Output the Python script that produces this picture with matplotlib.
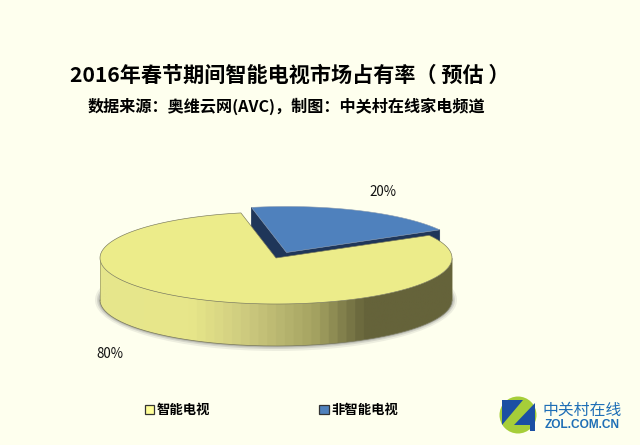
import numpy as np
import matplotlib
matplotlib.use("Agg")
import matplotlib.pyplot as plt
from matplotlib.patches import Polygon, Circle, Ellipse, Patch
from matplotlib.colors import LinearSegmentedColormap

plt.rcParams['font.family'] = ['Noto Sans CJK SC', 'DejaVu Sans']

# data
categories = ['智能电视', '非智能电视']
shares = [80, 20]
title = '2016年春节期间智能电视市场占有率（ 预估 ）'
subtitle = '数据来源：奥维云网(AVC)，制图：中关村在线家电频道'

# pie geometry, in pixels
BG = '#FEFFEE'
CX, CY = 276, 258
RX, RY = 176, 46
DEPTH = 42
START = -11.5   # clockwise from 12 o'clock, start of the small slice
EXPLODE = (10.5, -5.5)

YELLOW = '#ECEC8A'
BLUE = '#4F81BD'
BLUE_DARK = '#1F3659'
side_cmap = LinearSegmentedColormap.from_list('rim', [
    (0.0, '#E6E68C'), (0.25, '#E8E78A'), (0.42, '#CCC97E'),
    (0.62, '#A3A160'), (0.76, '#65633A'), (1.0, '#65633A')], N=40)


def rim(a0, a1, cx=CX, cy=CY, n=160):
    t = np.radians(np.linspace(a0, a1, n))
    return np.column_stack([cx + RX * np.sin(t), cy - RY * np.cos(t)])


fig = plt.figure(figsize=(6.4, 4.45), dpi=100, facecolor=BG)
ax = fig.add_axes([0, 0, 1, 1])

ax.text(290, 75, title, ha='center', va='center', fontsize=15.2, fontweight='bold', color='black')
ax.text(286.5, 106, subtitle, ha='center', va='center', fontsize=11.6, fontweight='bold', color='black')

# soft shadow under the rim
for grow, alpha in [(5, 0.12), (3, 0.2), (1.5, 0.3)]:
    ax.add_patch(Ellipse((CX, CY + DEPTH), 2 * (RX + grow), 2 * (RY + grow), fc='#777777', ec='none', alpha=alpha, zorder=1))

small_span = shares[1] / sum(shares) * 360
a0, a1 = START, START + small_span

# exploded small slice
bx, by = CX + EXPLODE[0], CY + EXPLODE[1]
top = np.vstack([[bx, by], rim(a0, a1, bx, by)])
low = top + [0, DEPTH]
ax.add_patch(Polygon(np.vstack([top[:2], low[1::-1]]), fc=BLUE_DARK, ec=BLUE_DARK, lw=0.5, zorder=2))
ax.add_patch(Polygon(np.vstack([top[[0, -1]], low[[-1, 0]]]), fc=BLUE_DARK, ec=BLUE_DARK, lw=0.5, zorder=2))
ax.add_patch(Polygon(top, fc=BLUE, ec='#8A9BB0', lw=0.4, zorder=3))

# big slice: rim as a stepped gradient clipped to the band, then the top face
edge = rim(90, 270)
band = Polygon(np.vstack([edge, (edge + [0, DEPTH])[::-1]]), fc='none', ec='none', zorder=4)
ax.add_patch(band)
grad = ax.imshow(np.linspace(0, 1, 200).reshape(1, -1), cmap=side_cmap, aspect='auto', zorder=4,
                 extent=(CX - RX, CX + RX, CY + DEPTH + RY, CY))
grad.set_clip_path(band)
ax.plot(edge[:, 0], edge[:, 1] + DEPTH, color='#77775A', lw=0.5, zorder=5)
for x0 in (CX - RX, CX + RX):
    ax.plot([x0, x0], [CY, CY + DEPTH], color='#8A8A60', lw=0.4, zorder=5)
face = np.vstack([[CX, CY], rim(a1, a0 + 360, n=300)])
ax.add_patch(Polygon(face, fc=YELLOW, ec='#77775A', lw=0.45, zorder=6))

# value labels
ax.text(382.5, 192.5, f'{shares[1]}%', ha='center', va='center', fontsize=9.6, color='#111111', zorder=7)
ax.text(109.5, 353.5, f'{shares[0]}%', ha='center', va='center', fontsize=9.6, color='#111111', zorder=7)

# legend
handles = [Patch(fc='#FFFF99', ec='#333333', lw=0.9), Patch(fc=BLUE, ec='#333333', lw=0.9)]
ax.legend(handles, categories, loc='center left', bbox_to_anchor=(145 / 640, 1 - 410 / 445), ncol=2,
          frameon=False, handlelength=0.7, handleheight=0.7, handletextpad=0.2,
          columnspacing=8.17, borderpad=0, borderaxespad=0,
          prop={'size': 9.6, 'family': ['Noto Sans CJK SC', 'DejaVu Sans'], 'weight': 'bold'})

# ZOL logo
ax.add_patch(Circle((518, 415), 18.5, fc='#A6CE39', ec='none', zorder=2))
ax.add_patch(Polygon([(502, 400), (523, 400), (502, 425)], fc='#1B4FA3', ec='none', zorder=3))
ax.add_patch(Polygon([(535, 403), (535, 431), (530, 431), (530, 425), (514, 425)], fc='#1B4FA3', ec='none', zorder=3))
ax.text(582.5, 410.5, '中关村在线', ha='center', va='center', fontsize=11.4, fontweight='medium', color='#1F6FB6')
ax.text(582.5, 424.5, 'ZOL.COM.CN', ha='center', va='center', fontsize=8.6, fontweight='bold', color='#1F6FB6',
        family=['Liberation Sans', 'DejaVu Sans'])

ax.set_xlim(0, 640)
ax.set_ylim(445, 0)
ax.axis('off')

fig.savefig('out.png', dpi=100, facecolor=BG)
